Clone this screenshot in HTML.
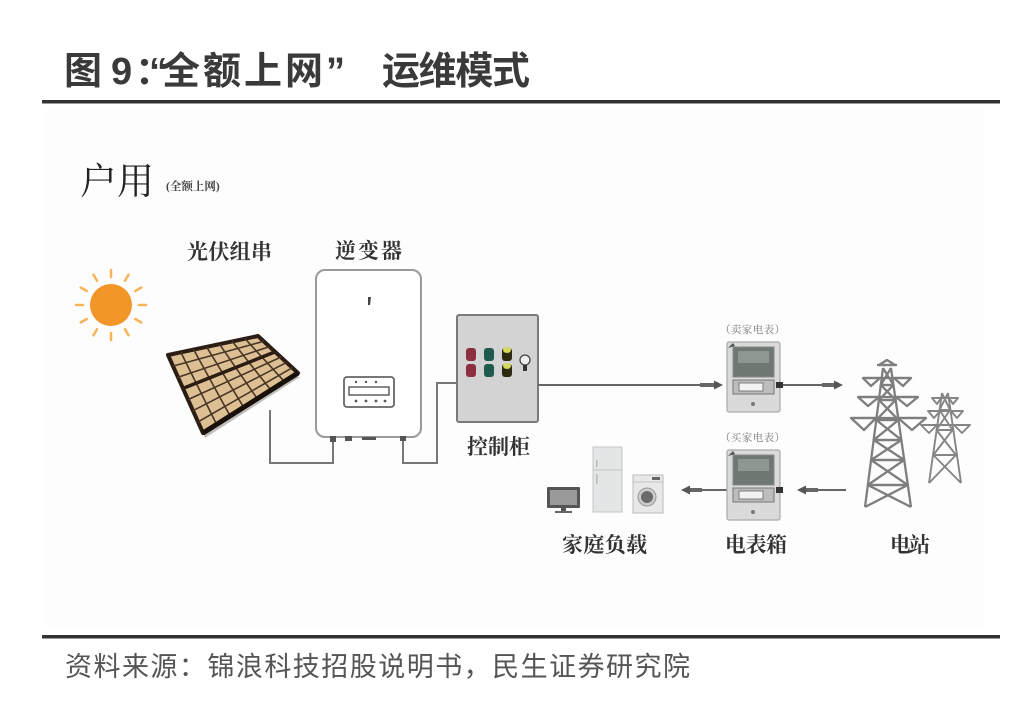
<!DOCTYPE html>
<html><head><meta charset="utf-8"><style>
html,body{margin:0;padding:0;background:#fff;}
svg{display:block;}
</style></head><body>
<svg width="1024" height="723" viewBox="0 0 1024 723" xmlns="http://www.w3.org/2000/svg">
<rect width="1024" height="723" fill="#fff"/>
<rect x="45" y="108" width="940" height="518" fill="#fefdfd"/>
<!-- Title -->
<g font-family="'Liberation Sans','Noto Sans CJK SC',sans-serif" font-weight="bold" fill="#3a3a3a" font-size="38">
<text x="64" y="84">图</text>
<text x="111" y="84">9</text>
<text x="135" y="84">：</text>
<text x="149" y="84">“</text>
<text x="162" y="84" textLength="161" lengthAdjust="spacing">全额上网</text>
<text x="326" y="84">”</text>
<text x="382" y="84" textLength="148" lengthAdjust="spacing">运维模式</text>
</g>
<rect x="42" y="100" width="958" height="3.5" fill="#333"/>
<rect x="42" y="635" width="958" height="3.5" fill="#333"/>
<text x="65" y="676" font-family="'Liberation Sans','Noto Sans CJK SC',sans-serif" font-size="27" fill="#555" textLength="625" lengthAdjust="spacing">资料来源：锦浪科技招股说明书，民生证券研究院</text>

<!-- 户用 -->
<text x="80" y="194" font-family="'Liberation Serif','Noto Serif CJK SC',serif" font-size="37" fill="#222">户用</text>
<text x="166" y="190" font-family="'Liberation Serif','Noto Serif CJK SC',serif" font-size="11.5" font-weight="bold" fill="#444">(全额上网)</text>

<!-- labels -->
<g font-family="'Liberation Serif','Noto Serif CJK SC',serif" font-weight="bold" fill="#333" font-size="21">
<text x="187" y="259" textLength="85" lengthAdjust="spacing">光伏组串</text>
<text x="335" y="258" textLength="67" lengthAdjust="spacing">逆变器</text>
<text x="467" y="454" textLength="63" lengthAdjust="spacing">控制柜</text>
<text x="562" y="552" textLength="85" lengthAdjust="spacing">家庭负载</text>
<text x="725" y="552" textLength="62" lengthAdjust="spacing">电表箱</text>
<text x="890" y="552" textLength="40" lengthAdjust="spacing">电站</text>
</g>
<g font-family="'Liberation Serif','Noto Serif CJK SC',serif" fill="#777" font-size="10.5">
<text x="720" y="333" textLength="65" lengthAdjust="spacing">（卖家电表）</text>
<text x="720" y="441" textLength="65" lengthAdjust="spacing">（买家电表）</text>
</g>

<!-- Sun -->
<g transform="translate(111,305)" stroke="#f6b45a" stroke-width="2.5" stroke-linecap="round">
<line x1="28" y1="0" x2="35" y2="0"/>
<line x1="28" y1="0" x2="35" y2="0" transform="rotate(30)"/>
<line x1="28" y1="0" x2="35" y2="0" transform="rotate(60)"/>
<line x1="28" y1="0" x2="35" y2="0" transform="rotate(90)"/>
<line x1="28" y1="0" x2="35" y2="0" transform="rotate(120)"/>
<line x1="28" y1="0" x2="35" y2="0" transform="rotate(150)"/>
<line x1="28" y1="0" x2="35" y2="0" transform="rotate(180)"/>
<line x1="28" y1="0" x2="35" y2="0" transform="rotate(210)"/>
<line x1="28" y1="0" x2="35" y2="0" transform="rotate(240)"/>
<line x1="28" y1="0" x2="35" y2="0" transform="rotate(270)"/>
<line x1="28" y1="0" x2="35" y2="0" transform="rotate(300)"/>
<line x1="28" y1="0" x2="35" y2="0" transform="rotate(330)"/>
</g>
<circle cx="111" cy="305" r="21" fill="#f39628"/>

<!-- Solar panel -->
<polygon points="170,360 205,438 300,377" fill="#000" opacity="0.25"/>
<polygon points="168,355 258,336 298,373 203,433" fill="#dcc093" stroke="#2b1d14" stroke-width="4" stroke-linejoin="round"/>
<g stroke="#4a3526" stroke-width="1.6">
<line x1="180.9" y1="352.3" x2="216.6" y2="424.4"/>
<line x1="193.7" y1="349.6" x2="230.1" y2="415.9"/>
<line x1="206.6" y1="346.9" x2="243.7" y2="407.3"/>
<line x1="219.4" y1="344.1" x2="257.3" y2="398.7"/>
<line x1="232.3" y1="341.4" x2="270.9" y2="390.1"/>
<line x1="245.1" y1="338.7" x2="284.4" y2="381.6"/>
<line x1="173" y1="366.1" x2="263.7" y2="341.3"/>
<line x1="178" y1="377.3" x2="269.4" y2="346.6"/>
<line x1="188" y1="399.6" x2="280.9" y2="357.1"/>
<line x1="193" y1="410.7" x2="286.6" y2="362.4"/>
<line x1="198" y1="421.9" x2="292.3" y2="367.7"/>
</g>
<line x1="183" y1="388.4" x2="275.1" y2="351.9" stroke="#2b1d14" stroke-width="3.5"/>
<line x1="203" y1="433" x2="298" y2="373" stroke="#1a100a" stroke-width="5"/>

<!-- wires -->
<g stroke="#777" stroke-width="2" fill="none">
<polyline points="270,410 270,463 333,463 333,437"/>
<polyline points="403,437 403,463 437,463 437,383 457,383"/>
</g>

<!-- Inverter -->
<rect x="316" y="270" width="105" height="167" rx="9" fill="#fff" stroke="#9a9a9a" stroke-width="2"/>
<path d="M368,297 l3,0 l-1,8 l-2,0 z" fill="#444"/>
<rect x="344" y="377" width="50" height="30" rx="3" fill="#fff" stroke="#666" stroke-width="1.8"/>
<rect x="349" y="387" width="40" height="8" fill="#fff" stroke="#555" stroke-width="1.4"/>
<g fill="#555"><circle cx="356" cy="382" r="1.2"/><circle cx="366" cy="382" r="1.2"/><circle cx="376" cy="382" r="1.2"/>
<circle cx="356" cy="401" r="1.4"/><circle cx="366" cy="401" r="1.4"/><circle cx="376" cy="401" r="1.4"/><circle cx="385" cy="401" r="1.4"/></g>
<g fill="#555"><rect x="330" y="436" width="6" height="6"/><rect x="345" y="436" width="7" height="5"/><rect x="362" y="437" width="14" height="3"/><rect x="400" y="436" width="6" height="5"/></g>

<!-- Control cabinet -->
<rect x="457" y="315" width="81" height="107" rx="2" fill="#d3d3d3" stroke="#7a7a7a" stroke-width="2"/>
<g>
<rect x="466" y="348" width="10" height="13" rx="3" fill="#8c2f3e"/>
<rect x="466" y="364" width="10" height="13" rx="3" fill="#8c2f3e"/>
<rect x="484" y="348" width="10" height="13" rx="3" fill="#1f5b4c"/>
<rect x="484" y="364" width="10" height="13" rx="3" fill="#1f5b4c"/>
<rect x="502" y="348" width="10" height="13" rx="3" fill="#2c2a10"/>
<rect x="502" y="364" width="10" height="13" rx="3" fill="#2c2a10"/>
<ellipse cx="507" cy="350" rx="4" ry="3" fill="#d8d85a"/>
<ellipse cx="507" cy="366" rx="4" ry="3" fill="#d8d85a"/>
<circle cx="525" cy="360" r="5" fill="#eee" stroke="#444" stroke-width="1.3"/>
<rect x="523" y="365" width="4" height="6" fill="#333"/>
</g>

<!-- arrows -->
<g stroke="#666" stroke-width="2" fill="#555">
<line x1="538" y1="385" x2="716" y2="385"/>
<line x1="700" y1="385" x2="714" y2="385" stroke-width="4"/>
<polygon points="714,380.5 723,385 714,389.5" stroke="none"/>
<line x1="782" y1="385" x2="836" y2="385"/>
<line x1="822" y1="385" x2="834" y2="385" stroke-width="4"/>
<polygon points="834,380.5 843,385 834,389.5" stroke="none"/>
<line x1="846" y1="490" x2="804" y2="490"/>
<line x1="806" y1="490" x2="818" y2="490" stroke-width="4"/>
<polygon points="806,485.5 797,490 806,494.5" stroke="none"/>
<line x1="727" y1="490" x2="688" y2="490"/>
<line x1="689" y1="490" x2="702" y2="490" stroke-width="4"/>
<polygon points="690,485.5 681,490 690,494.5" stroke="none"/>
</g>

<!-- Meters -->
<g>
<rect x="727" y="342" width="53" height="70" rx="2" fill="#dadada" stroke="#aaa" stroke-width="1.2"/>
<rect x="733" y="347" width="41" height="30" fill="#6f7772" stroke="#888"/>
<rect x="738" y="351" width="31" height="12" fill="#8e9890"/>
<rect x="733" y="380" width="41" height="14" fill="#bdbdbd" stroke="#777"/>
<rect x="739" y="383" width="24" height="8" fill="#f2f2f2" stroke="#666" stroke-width="0.8"/>
<circle cx="753" cy="404" r="2" fill="#777"/>
<rect x="776" y="382" width="7" height="6" fill="#333"/>
<path d="M728,348 l5,-5 l2,3 z" fill="#555"/>
</g>
<g transform="translate(0,108)">
<rect x="727" y="342" width="53" height="70" rx="2" fill="#dadada" stroke="#aaa" stroke-width="1.2"/>
<rect x="733" y="347" width="41" height="30" fill="#6f7772" stroke="#888"/>
<rect x="738" y="351" width="31" height="12" fill="#8e9890"/>
<rect x="733" y="380" width="41" height="14" fill="#bdbdbd" stroke="#777"/>
<rect x="739" y="383" width="24" height="8" fill="#f2f2f2" stroke="#666" stroke-width="0.8"/>
<circle cx="753" cy="404" r="2" fill="#777"/>
<rect x="776" y="379" width="7" height="6" fill="#333"/>
<path d="M728,348 l5,-5 l2,3 z" fill="#555"/>
</g>

<!-- Appliances -->
<rect x="547" y="487" width="33" height="21" fill="#555" rx="1"/>
<rect x="550" y="490" width="27" height="15" fill="#9a9a9a"/>
<rect x="561" y="508" width="5" height="3" fill="#555"/>
<rect x="555" y="511" width="17" height="2" fill="#666"/>
<rect x="593" y="447" width="29" height="65" fill="#e3e6e6" stroke="#c4c6c6" stroke-width="1"/>
<line x1="593" y1="470" x2="622" y2="470" stroke="#c0c3c3"/>
<rect x="596" y="460" width="1.5" height="7" fill="#bbb"/>
<rect x="596" y="474" width="1.5" height="10" fill="#bbb"/>
<rect x="633" y="475" width="30" height="38" fill="#e8e8e8" stroke="#bbb" stroke-width="1"/>
<line x1="633" y1="482" x2="663" y2="482" stroke="#c4c4c4"/>
<rect x="652" y="477" width="8" height="3" fill="#666"/>
<circle cx="647" cy="497" r="9" fill="#ccc" stroke="#999"/>
<circle cx="647" cy="497" r="6" fill="#6a6a6a"/>

<!-- Towers -->
<g stroke="#7e7e7e" stroke-width="2.3" fill="none" stroke-linejoin="round">
<line x1="883" y1="368" x2="865" y2="507"/>
<line x1="891" y1="368" x2="911" y2="507"/>
<polyline points="883,368 893.4,385 880.8,385 895.6,400 878.9,400 898.5,420 876.3,420 901.4,440 873.7,440 904.2,460 871.1,460 907.8,485 867.8,485 911,507"/>
<polyline points="891,368 880.8,385 893.4,385 878.9,400 895.6,400 876.3,420 898.5,420 873.7,440 901.4,440 871.1,460 904.2,460 867.8,485 907.8,485 865,507"/>
<polyline points="877,365 897,365"/>
<polygon points="879,365 887,360 895,365"/>
<line x1="863" y1="378" x2="911" y2="378"/>
<polygon points="863,378 871,386 880,378"/>
<polygon points="894,378 903,386 911,378"/>
<line x1="858" y1="397" x2="918" y2="397"/>
<polygon points="858,397 868,406 879,397"/>
<polygon points="896,397 907,406 918,397"/>
<line x1="851" y1="418" x2="926" y2="418"/>
<polygon points="851,418 864,430 876,418"/>
<polygon points="898,418 912,430 926,418"/>
</g>
<g stroke="#858585" stroke-width="1.9" fill="none" stroke-linejoin="round">
<line x1="942" y1="393" x2="929" y2="483"/>
<line x1="948" y1="393" x2="961" y2="483"/>
<polyline points="942,393 950,410 939.5,410 952.5,430 936.4,430 956,455 933.3,455 961,483"/>
<polyline points="948,393 939.5,410 950,410 936.4,430 952.5,430 933.3,455 956,455 929,483"/>
<line x1="932" y1="398" x2="958" y2="398"/>
<polygon points="932,398 937,404 941,398"/>
<polygon points="949,398 953,404 958,398"/>
<line x1="928" y1="411" x2="963" y2="411"/>
<polygon points="928,411 934,418 940,411"/>
<polygon points="951,411 957,418 963,411"/>
<line x1="921" y1="425" x2="970" y2="425"/>
<polygon points="921,425 929,433 937,425"/>
<polygon points="954,425 962,433 970,425"/>
</g>
</svg>
</body></html>
